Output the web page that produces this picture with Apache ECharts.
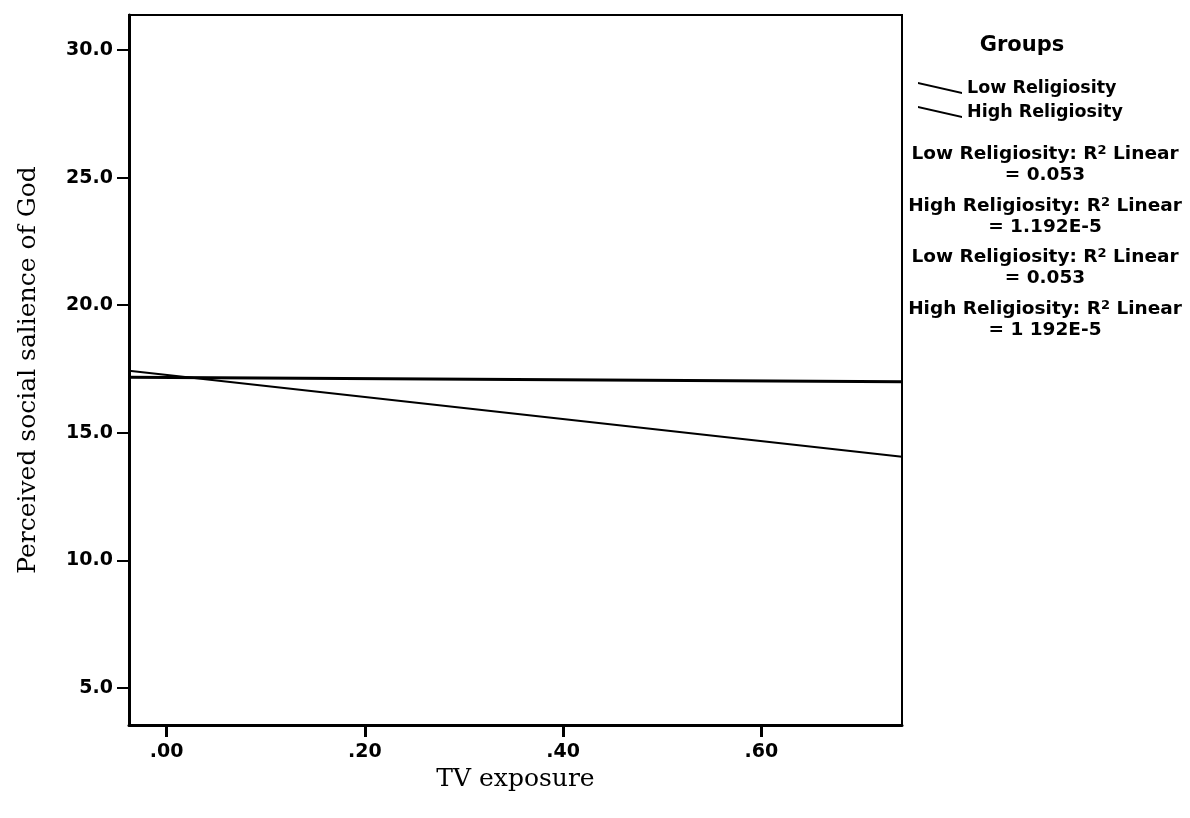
<!DOCTYPE html>
<html>
<head>
<meta charset="utf-8">
<script src="https://cdn.jsdelivr.net/npm/echarts@6/dist/echarts.min.js"></script>
<style>
  html, body { margin: 0; padding: 0; background: #fff; }
  #chart { width: 1190px; height: 818px; }
</style>
</head>
<body>
<div id="chart"></div>
<script>
// fit line end points (x at the plot edges)
const tvExposure = [-0.038, 0.742];
const lowReligiosity = [17.43, 14.06];
const highReligiosity = [17.18, 17.0];

const xTicks = [0, 0.2, 0.4, 0.6];
const yTicks = [5, 10, 15, 20, 25, 30];

const groups = ['Low Religiosity', 'High Religiosity'];
const fitNotes = [
  ['Low Religiosity: R', 'Linear', '= 0.053'],
  ['High Religiosity: R', 'Linear', '= 1.192E-5'],
  ['Low Religiosity: R', 'Linear', '= 0.053'],
  ['High Religiosity: R', 'Linear', '= 1 192E-5']
];

const chart = echarts.init(document.getElementById('chart'), null, { renderer: 'canvas' });

const labelFont = 'DejaVu Sans, Arial, sans-serif';
const titleFont = 'DejaVu Serif, Times New Roman, serif';

// R² notes on the right
const noteTop = [144, 196, 247, 299];
const noteGraphics = fitNotes.map((n, i) => ({
  type: 'text',
  x: 1045,
  y: noteTop[i],
  style: {
    text: '{a|' + n[0] + '}{s|2}{a| ' + n[1] + '}\n{a|' + n[2] + '}',
    align: 'center',
    verticalAlign: 'top',
    rich: {
      a: { fontFamily: labelFont, fontWeight: 'bold', fontSize: 18.5, fill: '#000', lineHeight: 21 },
      s: { fontFamily: labelFont, fontWeight: 'bold', fontSize: 13, fill: '#000', verticalAlign: 'top', lineHeight: 21, padding: [0, 0, 6, 0] }
    }
  }
}));

chart.setOption({
  animation: false,
  backgroundColor: '#fff',
  grid: {
    left: 129, right: 288, top: 15, bottom: 93,
    show: true, borderColor: '#000', borderWidth: 2, backgroundColor: '#fff'
  },
  legend: {
    data: groups,
    orient: 'vertical',
    left: 913,
    top: 73,
    itemWidth: 44,
    itemHeight: 12,
    itemGap: 4,
    icon: 'path://M0,0 L44,10 L44,12 L0,2 Z',
    textStyle: { fontFamily: labelFont, fontWeight: 'bold', fontSize: 17.5, color: '#000', lineHeight: 20 }
  },
  graphic: [
    {
      type: 'text',
      x: 1022,
      y: 46,
      style: { text: 'Groups', fontFamily: labelFont, fontSize: 21, fontWeight: 'bold', fill: '#000', align: 'center', verticalAlign: 'middle' }
    }
  ].concat(noteGraphics),
  xAxis: {
    type: 'value',
    min: tvExposure[0],
    max: tvExposure[1],
    name: 'TV exposure',
    nameLocation: 'middle',
    nameGap: 40,
    nameTextStyle: { fontFamily: titleFont, fontSize: 25, color: '#000', verticalAlign: 'top' },
    axisLine: { show: true, onZero: false, lineStyle: { color: '#000', width: 3 } },
    axisTick: { show: true, customValues: xTicks, length: 12, lineStyle: { color: '#000', width: 3 } },
    axisLabel: {
      customValues: xTicks,
      margin: 18,
      fontFamily: labelFont, fontWeight: 'bold', fontSize: 19, color: '#000',
      formatter: v => v.toFixed(2).replace(/^0/, '')
    },
    splitLine: { show: false }
  },
  yAxis: {
    type: 'value',
    min: 3.55,
    max: 31.37,
    name: 'Perceived social salience of God',
    nameLocation: 'middle',
    nameGap: 88,
    nameRotate: 90,
    nameTextStyle: { fontFamily: titleFont, fontSize: 25, color: '#000' },
    axisLine: { show: true, onZero: false, lineStyle: { color: '#000', width: 3 } },
    axisTick: { show: true, customValues: yTicks, length: 12, lineStyle: { color: '#000', width: 2 } },
    axisLabel: {
      customValues: yTicks,
      margin: 16,
      fontFamily: labelFont, fontWeight: 'bold', fontSize: 19, color: '#000',
      formatter: v => v.toFixed(1)
    },
    splitLine: { show: false }
  },
  series: [
    {
      name: groups[0],
      type: 'line',
      symbol: 'none',
      color: '#000',
      lineStyle: { color: '#000', width: 2 },
      data: tvExposure.map((x, i) => [x, lowReligiosity[i]])
    },
    {
      name: groups[1],
      type: 'line',
      symbol: 'none',
      color: '#000',
      lineStyle: { color: '#000', width: 3 },
      data: tvExposure.map((x, i) => [x, highReligiosity[i]])
    }
  ]
});
</script>
</body>
</html>
